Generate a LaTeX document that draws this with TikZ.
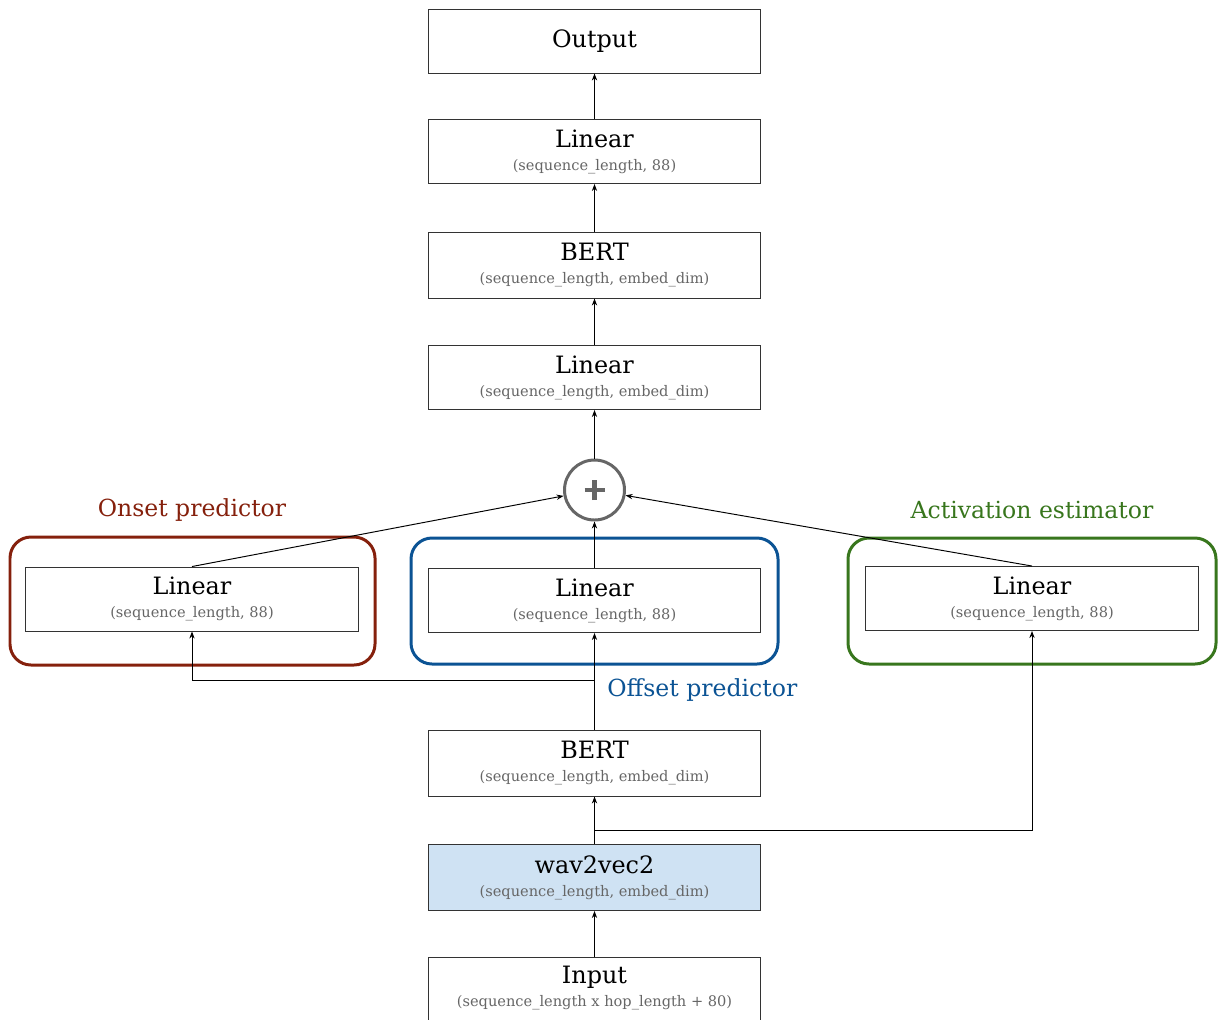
\documentclass[tikz,border=0pt]{standalone}
\usepackage{fontspec}
\setmainfont{DejaVu Serif}
\usetikzlibrary{arrows.meta,positioning}
\definecolor{onsetc}{HTML}{85200C}
\definecolor{offsetc}{HTML}{0B5394}
\definecolor{actc}{HTML}{38761D}
\definecolor{wavfill}{HTML}{CFE2F3}
\definecolor{subgray}{HTML}{666666}
\definecolor{boxline}{HTML}{333333}
\newcommand{\ttl}[1]{{\fontsize{13.6pt}{15pt}\selectfont #1}}
\newcommand{\sbt}[1]{{\fontsize{8.3pt}{9pt}\selectfont\color{subgray}#1}}
\begin{document}
\begin{tikzpicture}[x=0.02cm,y=-0.02cm,
  blk/.style={draw=boxline,line width=0.55pt,fill=white,minimum width=6.66cm,minimum height=1.28cm,align=center,inner sep=0pt},
  grp/.style={line width=1.7pt,rounded corners=0.42cm},
  arr/.style={-{Stealth[length=4pt,width=3pt]},line width=0.55pt},
  grplabel/.style={font=\fontsize{13.4pt}{15pt}\selectfont,inner sep=0pt}]
\useasboundingbox (0,0) rectangle (1219,1019);
\clip (0,0) rectangle (1219,1019);
% groups
\draw[grp,onsetc] (10,537) rectangle (375,665);
\draw[grp,offsetc] (411,538) rectangle (778,664);
\draw[grp,actc] (848,538) rectangle (1216,664);
\node[grplabel,text=onsetc] (onlab) at (192,510) {Onset predictor};
\node[grplabel,text=actc] (actlab) at (1032,510) {Activation estimator};
\node[grplabel,text=offsetc,anchor=west] (offlab) at (607,690) {Offset predictor};
% boxes
\node[blk] (out) at (594.5,41) {\ttl{Output}};
\node[blk] (lin3) at (594.5,151.5) {\ttl{Linear}\\[1pt]\sbt{(sequence\_length, 88)}};
\node[blk,minimum height=1.32cm] (bert1) at (594.5,265) {\ttl{BERT}\\[1pt]\sbt{(sequence\_length, embed\_dim)}};
\node[blk] (lin2) at (594.5,377.5) {\ttl{Linear}\\[1pt]\sbt{(sequence\_length, embed\_dim)}};
\node[draw=subgray,line width=1.7pt,fill=white,circle,minimum size=1.2cm,inner sep=0pt] (plus) at (594.5,490) {};
\draw[subgray,line width=2.8pt] ([xshift=-0.2cm]plus.center) -- ([xshift=0.2cm]plus.center)
  ([yshift=-0.2cm]plus.center) -- ([yshift=0.2cm]plus.center);
\node[blk] (onL) at (192,599) {\ttl{Linear}\\[1pt]\sbt{(sequence\_length, 88)}};
\node[blk] (offL) at (594.5,600.5) {\ttl{Linear}\\[1pt]\sbt{(sequence\_length, 88)}};
\node[blk] (actL) at (1032,598.5) {\ttl{Linear}\\[1pt]\sbt{(sequence\_length, 88)}};
\node[blk,minimum height=1.32cm] (bert2) at (594.5,763) {\ttl{BERT}\\[1pt]\sbt{(sequence\_length, embed\_dim)}};
\node[blk,minimum height=1.32cm,fill=wavfill] (wav) at (594.5,877.5) {\ttl{wav2vec2}\\[1pt]\sbt{(sequence\_length, embed\_dim)}};
\node[blk,minimum height=1.66cm,anchor=north] (inp) at (594.5,957) {};
\node[inner sep=0pt,align=center,anchor=north] (inptxt) at (594.5,966) {\ttl{Input}\\[1pt]\sbt{(sequence\_length x hop\_length + 80)}};
% connectors
\coordinate (j1) at (594.5,680);
\coordinate (j2) at (594.5,830);
\draw[arr] (inp.north) -- (wav.south);
\draw[arr] (wav.north) -- (bert2.south);
\draw[arr] (j2) -| (actL.south);
\draw[arr] (bert2.north) -- (offL.south);
\draw[arr] (j1) -| (onL.south);
\draw[arr] (onL.north) -- (plus);
\draw[arr] (offL.north) -- (plus.south);
\draw[arr] (actL.north) -- (plus);
\draw[arr] (plus.north) -- (lin2.south);
\draw[arr] (lin2.north) -- (bert1.south);
\draw[arr] (bert1.north) -- (lin3.south);
\draw[arr] (lin3.north) -- (out.south);
\end{tikzpicture}
\end{document}
